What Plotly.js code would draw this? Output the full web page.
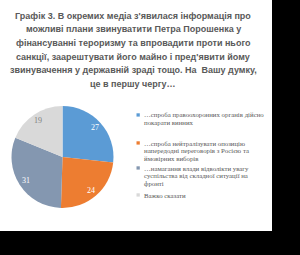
<!DOCTYPE html>
<html>
<head>
<meta charset="utf-8">
<script src="https://cdn.plot.ly/plotly-3.0.1.min.js"></script>
<style>html,body{margin:0;padding:0;background:#000;}#chart{width:300px;height:255px;}</style>
</head>
<body>
<div id="chart"></div>
<script>
const titleLines = [
  "Графік 3. В окремих медіа з'явилася інформація про",
  "можливі плани звинуватити Петра Порошенка у",
  "фінансуванні тероризму та впровадити проти нього",
  "санкції, заарештувати його майно і пред'явити йому",
  "звинувачення у державній зраді тощо. На  Вашу думку,",
  "це в першу чергу…"
];
const categories = [
  "…спроба правоохоронних органів дійсно<br>покарати винних",
  "…спроба нейтралізувати опозицію<br>напередодні переговорів з Росією та<br>ймовірних виборів",
  "…намагання влади відволікти увагу<br>суспільства від складної ситуації на<br>фронті",
  "Важко сказати"
];
const values = [27, 24, 31, 19];
const colors = ["#5B9BD5", "#ED7D31", "#8497B0", "#D9D9D9"];
const labelColors = ["#ffffff", "#ffffff", "#ffffff", "#7f7f7f"];

const W = 300, H = 255;
const px = v => v / W, py = v => 1 - v / H;

// pie geometry (pixels)
const cx = 62.5, cy = 157, R = 51;

const trace = {
  type: "pie",
  labels: categories,
  values: values,
  sort: false,
  direction: "clockwise",
  rotation: 0,
  marker: {colors: colors, line: {width: 0}},
  textinfo: "none",
  hoverinfo: "none",
  showlegend: false,
  domain: {x: [px(cx - R), px(cx + R)], y: [py(cy + R), py(cy - R)]}
};

const annotations = [];
const shapes = [{
  type: "rect", xref: "paper", yref: "paper", layer: "below",
  x0: 0, x1: px(272), y0: py(231), y1: 1,
  fillcolor: "#ffffff", line: {width: 0}
}];

// title lines
const titleY0 = 15.7, titleStep = 13.65;
titleLines.forEach((t, i) => {
  annotations.push({
    text: t, xref: "paper", yref: "paper", x: px(133), y: py(titleY0 + i * titleStep),
    xanchor: "center", yanchor: "middle", showarrow: false,
    font: {family: "Liberation Sans", size: 9, color: "#595959", weight: "bold"}
  });
});

// slice value labels, positioned from the data
const total = values.reduce((a, b) => a + b, 0);
let cum = 0;
values.forEach((v, i) => {
  const mid = (cum + v / 2) / total * 2 * Math.PI;
  cum += v;
  const r = 0.86 * R;
  annotations.push({
    text: String(v), xref: "paper", yref: "paper",
    x: px(cx + r * Math.sin(mid)), y: py(cy - r * Math.cos(mid)),
    xanchor: "center", yanchor: "middle", showarrow: false,
    font: {family: "Liberation Serif", size: 8, color: labelColors[i]}
  });
});

// legend
const legendTop = [115, 143, 168, 195];
const lineStep = 7.6;
categories.forEach((c, i) => {
  const lines = c.split("<br>");
  lines.forEach((ln, j) => {
    annotations.push({
      text: ln, xref: "paper", yref: "paper",
      x: px(142), y: py(legendTop[i] + j * lineStep),
      xanchor: "left", yanchor: "middle", showarrow: false,
      font: {family: "Liberation Serif", size: 6.8, color: "#595959"}
    });
  });
  shapes.push({
    type: "rect", xref: "paper", yref: "paper",
    x0: px(136.5), x1: px(139.8), y0: py(legendTop[i] + 1.6), y1: py(legendTop[i] - 1.7),
    fillcolor: colors[i], line: {width: 0}
  });
});

const layout = {
  width: W, height: H,
  margin: {l: 0, r: 0, t: 0, b: 0},
  paper_bgcolor: "#000000",
  showlegend: false,
  annotations: annotations,
  shapes: shapes
};
Plotly.newPlot("chart", [trace], layout, {displayModeBar: false, staticPlot: true});
</script>
</body>
</html>
